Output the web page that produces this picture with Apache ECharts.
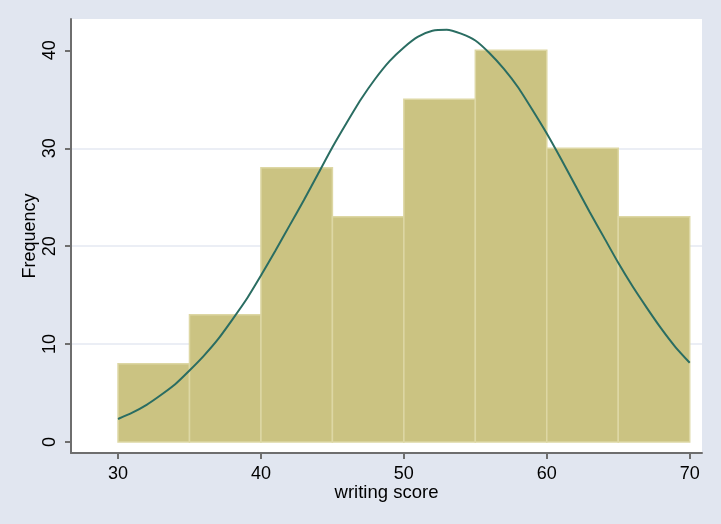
<!DOCTYPE html>
<html>
<head>
<meta charset="utf-8">
<script src="https://cdn.jsdelivr.net/npm/echarts@6/dist/echarts.min.js"></script>
<style>
html,body{margin:0;padding:0;background:#e1e6f0;}
#chart{width:721px;height:524px;}
</style>
</head>
<body>
<div id="chart"></div>
<script>
// Histogram bins (writing score), width 5
const binStarts = [30, 35, 40, 45, 50, 55, 60, 65];
const binEnds   = [35, 40, 45, 50, 55, 60, 65, 70];
const frequencies = [8, 13, 28, 23, 35, 40, 30, 23];

// Normal density overlay
const curveX = [30,31,32,33,34,35,36,37,38,39,40,41,42,43,44,45,46,47,48,49,50,
                51,52,53,54,55,56,57,58,59,60,61,62,63,64,65,66,67,68,69,70];
const curveY = [2.35,3.0,3.8,4.8,5.9,7.3,8.8,10.5,12.5,14.6,17.0,19.5,22.1,24.7,27.4,30.1,32.6,35.0,37.1,38.9,40.3,
                41.4,42.0,42.1,41.7,41.0,39.7,38.1,36.2,33.9,31.5,28.9,26.2,23.5,20.9,18.3,15.9,13.7,11.6,9.7,8.1];

const xTicks = [30, 40, 50, 60, 70];
const yTicks = [0, 10, 20, 30, 40];

const chart = echarts.init(document.getElementById('chart'), null, {renderer: 'canvas'});
const FONT = 'Liberation Sans';

const histData = binStarts.map((s, i) => [s, binEnds[i], frequencies[i]]);
const curveData = curveX.map((x, i) => [x, curveY[i]]);

chart.setOption({
  backgroundColor: '#e1e6f0',
  animation: false,
  grid: {
    left: 71, top: 19, right: 19, bottom: 71,
    show: true, backgroundColor: '#ffffff', borderWidth: 0
  },
  xAxis: {
    type: 'value',
    min: 26.71, max: 70.86,
    name: 'writing score',
    nameLocation: 'middle',
    nameGap: 30,
    nameMoveOverlap: false,
    nameTextStyle: {fontFamily: FONT, fontSize: 18.5, color: '#000'},
    axisLine: {show: true, onZero: false, lineStyle: {color: '#6e6e6e', width: 2}},
    axisTick: {show: true, customValues: xTicks, length: 6, lineStyle: {color: '#6e6e6e', width: 2}},
    axisLabel: {customValues: xTicks, margin: 12, fontFamily: FONT, fontSize: 18, color: '#000'},
    splitLine: {show: false}
  },
  yAxis: {
    type: 'value',
    min: -1.12, max: 43.2,
    splitNumber: 5,
    name: 'Frequency',
    nameLocation: 'middle',
    nameGap: 32,
    nameMoveOverlap: false,
    nameRotate: 90,
    nameTextStyle: {fontFamily: FONT, fontSize: 18, color: '#000'},
    axisLine: {show: true, onZero: false, lineStyle: {color: '#6e6e6e', width: 2}},
    axisTick: {show: true, customValues: yTicks, length: 6, lineStyle: {color: '#6e6e6e', width: 2}},
    axisLabel: {customValues: yTicks, rotate: 90, margin: 12, fontFamily: FONT, fontSize: 18, color: '#000'},
    splitLine: {show: true, showMinLine: false, showMaxLine: false, lineStyle: {color: '#e4e8f2', width: 1.5}}
  },
  series: [
    {
      type: 'custom',
      z: 2,
      data: histData,
      encode: {x: [0, 1], y: 2},
      renderItem: function (params, api) {
        const p0 = api.coord([api.value(0), api.value(2)]);
        const p1 = api.coord([api.value(1), 0]);
        return {
          type: 'rect',
          shape: {x: p0[0], y: p0[1], width: p1[0] - p0[0], height: p1[1] - p0[1]},
          style: {fill: '#cbc382', stroke: '#ddd7a4', lineWidth: 1.5}
        };
      }
    },
    {
      type: 'line',
      z: 3,
      data: curveData,
      smooth: 0.2,
      showSymbol: false,
      lineStyle: {color: '#2a6d62', width: 2}
    }
  ]
});
</script>
</body>
</html>
